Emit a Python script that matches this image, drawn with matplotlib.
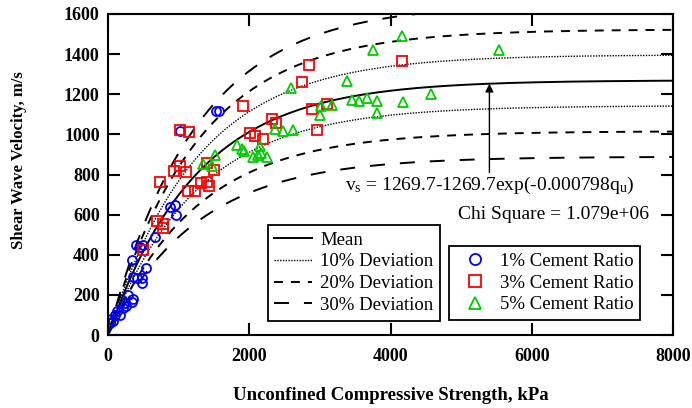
import numpy as np
import matplotlib
matplotlib.use("Agg")
import matplotlib.pyplot as plt
from matplotlib.lines import Line2D

plt.rcParams["font.family"] = ["Liberation Serif", "DejaVu Serif"]
plt.rcParams["mathtext.fontset"] = "custom"
plt.rcParams["mathtext.rm"] = "Liberation Serif"
plt.rcParams["mathtext.it"] = "Liberation Serif:italic"

# fit parameters
vs_max = 1269.7
rate = 0.000798
deviations = [0.10, 0.20, 0.30]

# 1% cement ratio (qu kPa, vs m/s)
qu_1 = [28, 45, 75, 99, 123, 170, 217, 255, 241, 287, 336, 358, 349, 406, 477,
        485, 336, 396, 453, 500, 538, 665, 878, 949, 963, 1019, 1529, 1576]
vs_1 = [60, 80, 70, 100, 118, 100, 135, 145, 160, 199, 166, 178, 291, 283, 283,
        258, 374, 449, 440, 449, 332, 490, 636, 648, 598, 1017, 1118, 1118]

# 3% cement ratio
qu_3 = [491, 689, 774, 774, 736, 935, 1019, 1100, 1019, 1151, 1137, 1232, 1317,
        1397, 1435, 1406, 1501, 1916, 2011, 2082, 2190, 2318, 2379, 2743, 2851,
        2884, 2955, 3106, 4158]
vs_3 = [424, 570, 553, 532, 761, 819, 844, 814, 1022, 1013, 718, 719, 759,
        761, 743, 856, 822, 1143, 1005, 990, 975, 1076, 1056, 1262, 1346,
        1128, 1022, 1153, 1366]

# 5% cement ratio
qu_5 = [1350, 1468, 1515, 1822, 1893, 1926, 2058, 2128, 2162, 2247, 2152, 2365,
        2474, 2624, 2587, 3002, 3012, 3167, 3388, 3455, 3550, 3668, 3805, 3814,
        3757, 4158, 4178, 4574, 5537]
vs_5 = [851, 842, 897, 947, 925, 918, 889, 897, 909, 889, 942, 1025,
        1015, 1024, 1229, 1096, 1141, 1146, 1264, 1170, 1167, 1179, 1166, 1108,
        1420, 1490, 1159, 1202, 1420]

arrow_qu = 5400
arrow_tail = 810


def model(q):
    return vs_max - vs_max * np.exp(-rate * q)


fig = plt.figure(figsize=(6.92, 4.08), dpi=100)
ax = fig.add_axes([0.1561, 0.1789, 0.8165, 0.7868])

q = np.linspace(0, 8000, 600)
styles = [
    ("-", 1.4, "Mean"),
    ((0, (1, 1)), 1.0, "10% Deviation"),
    ((0, (4.6, 4.1)), 1.4, "20% Deviation"),
    ((0, (7.7, 7.7)), 1.4, "30% Deviation"),
]
ax.plot(q, model(q), color="black", linestyle=styles[0][0], lw=styles[0][1])
for d, (ls, lw, _) in zip(deviations, styles[1:]):
    ax.plot(q, model(q) * (1 + d), color="black", linestyle=ls, lw=lw)
    ax.plot(q, model(q) * (1 - d), color="black", linestyle=ls, lw=lw)

mk = dict(linestyle="none", markerfacecolor="none", markeredgewidth=1.3)
ax.plot(qu_1, vs_1, marker="o", markersize=6.5, markeredgecolor="#0000ff", **mk)
ax.plot(qu_3, vs_3, marker="s", markersize=6.5, markeredgecolor="#ff0000", **mk)
ax.plot(qu_5, vs_5, marker="^", markersize=7, markeredgecolor="#00cc00", **mk)

ax.annotate("", xy=(arrow_qu, model(arrow_qu)), xytext=(arrow_qu, arrow_tail),
            arrowprops=dict(arrowstyle="-|>", color="black", lw=1.0,
                            mutation_scale=12, shrinkA=0, shrinkB=0))

ax.text(0.4195, 0.467,
        r"v$_{\rm s}$ = 1269.7-1269.7exp(-0.000798q$_{\rm u}$)",
        transform=ax.transAxes, fontsize=14, va="center", ha="left")
ax.text(0.9575, 0.374, "Chi Square = 1.079e+06",
        transform=ax.transAxes, fontsize=14, va="center", ha="right")

ax.set_xlim(0, 8000)
ax.set_ylim(0, 1600)
ax.set_xticks(np.arange(0, 8001, 2000))
ax.set_yticks(np.arange(0, 1601, 200))
ax.tick_params(direction="in", length=8.5, width=1.5, top=True, right=True,
               labelsize=13)
ax.tick_params(axis="x", pad=9.5)
ax.tick_params(axis="y", pad=6)
for lab in ax.get_xticklabels() + ax.get_yticklabels():
    lab.set_fontweight("bold")
for s in ax.spines.values():
    s.set_linewidth(1.5)

ax.set_xlabel("Unconfined Compressive Strength, kPa", fontsize=13.5,
              fontweight="bold")
ax.set_ylabel("Shear Wave Velocity, m/s", fontsize=12, fontweight="bold")
ax.xaxis.set_label_coords(0.5, -0.162)
ax.yaxis.set_label_coords(-0.143, 0.545)

line_handles = [Line2D([], [], color="black", linestyle=ls, lw=lw)
                for ls, lw, _ in styles]
leg1 = ax.legend(line_handles, [s[2] for s in styles], loc="upper left",
                 bbox_to_anchor=(0.283, 0.343), borderaxespad=0,
                 fontsize=13.5, fancybox=False, framealpha=1,
                 edgecolor="black", handlelength=2.0, handletextpad=0.45,
                 labelspacing=0.25, borderpad=0.35)
leg1.get_frame().set_linewidth(1.3)
ax.add_artist(leg1)

mark_handles = [
    Line2D([], [], marker="o", markersize=8, markeredgecolor="#0000ff", **mk),
    Line2D([], [], marker="s", markersize=8, markeredgecolor="#ff0000", **mk),
    Line2D([], [], marker="^", markersize=8, markeredgecolor="#00cc00", **mk),
]
leg2 = ax.legend(mark_handles, ["1% Cement Ratio", "3% Cement Ratio",
                                "5% Cement Ratio"],
                 loc="upper left", bbox_to_anchor=(0.6035, 0.277),
                 borderaxespad=0, fontsize=13.5, fancybox=False,
                 framealpha=1, edgecolor="black", handlelength=2.07,
                 handletextpad=0.3, labelspacing=0.25, borderpad=0.35)
leg2.get_frame().set_linewidth(1.3)

fig.savefig("out.png", dpi=100)
